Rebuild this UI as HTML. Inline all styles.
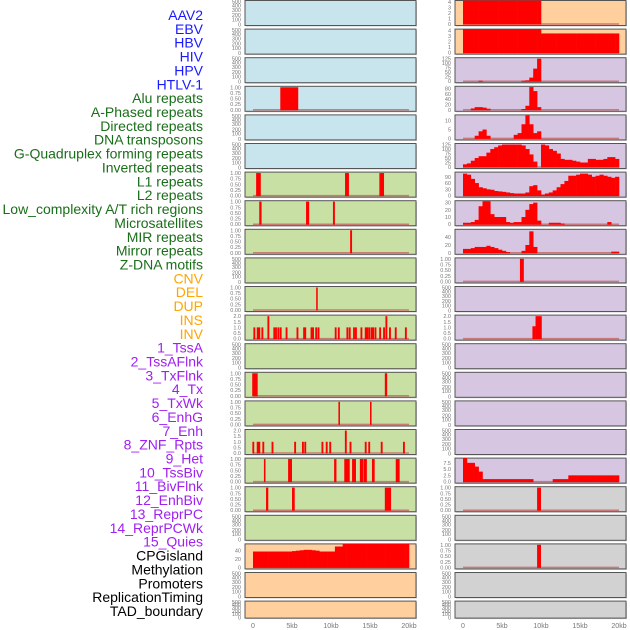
<!DOCTYPE html>
<html><head><meta charset="utf-8"><style>
html,body{margin:0;padding:0;background:#fff;width:630px;height:630px;overflow:hidden}
svg{display:block;font-family:"Liberation Sans",sans-serif}
</style></head><body>
<svg id="chart" width="630" height="630" viewBox="0 0 630 630" xmlns="http://www.w3.org/2000/svg"></svg>
<script>
// ---- data ----
const rowLabels = ["AAV2","EBV","HBV","HIV","HPV","HTLV-1","Alu repeats","A-Phased repeats","Directed repeats","DNA transposons","G-Quadruplex forming repeats","Inverted repeats","L1 repeats","L2 repeats","Low_complexity A/T rich regions","Microsatellites","MIR repeats","Mirror repeats","Z-DNA motifs","CNV","DEL","DUP","INS","INV","1_TssA","2_TssAFlnk","3_TxFlnk","4_Tx","5_TxWk","6_EnhG","7_Enh","8_ZNF_Rpts","9_Het","10_TssBiv","11_BivFlnk","12_EnhBiv","13_ReprPC","14_ReprPCWk","15_Quies","CPGisland","Methylation","Promoters","ReplicationTiming","TAD_boundary"];
const labelColors = ["#1a1aff","#1a1aff","#1a1aff","#1a1aff","#1a1aff","#1a1aff","#1a6e1a","#1a6e1a","#1a6e1a","#1a6e1a","#1a6e1a","#1a6e1a","#1a6e1a","#1a6e1a","#1a6e1a","#1a6e1a","#1a6e1a","#1a6e1a","#1a6e1a","#ffa500","#ffa500","#ffa500","#ffa500","#ffa500","#a020f0","#a020f0","#a020f0","#a020f0","#a020f0","#a020f0","#a020f0","#a020f0","#a020f0","#a020f0","#a020f0","#a020f0","#a020f0","#a020f0","#a020f0","#000","#000","#000","#000","#000"];
const bgLeft = ["b","b","b","b","b","b","g","g","g","g","g","g","g","g","g","g","g","g","g","o","o","o"];
const bgRight = ["o","o","p","p","p","p","p","p","p","p","p","p","p","p","p","p","p","r","r","r","r","r"];
const xTicks = [0,5,10,15,20];
const xTickLabels = ["0","5kb","10kb","15kb","20kb"];
// binned series (0.5kb bins, 40 bins)
const hivBins = [0,0,0,0,3,0,0,0,0,0,0,0,0,0,0,3,5,20,70,125,0,0,0,0,0,0,0,0,0,0,0,0,0,0,0,0,0,0,0,0];
const aluBins = [0,0,5,10,10,8,4,0,0,0,0,0,0,0,0,3,15,85,70,10,0,0,0,0,0,0,0,0,0,0,0,0,0,0,0,0,0,0,0,0];
const directedBins = [0,0,0,1.5,4,5,1.5,0,0,0,0,0,0,2,3,8,13,8,3,4,0,0,0,0,0,0,0,0,0,0,0,0,0,0,0,0,0,0,0,0];
const gquadBins = [15,20,35,50,60,60,80,100,110,120,125,125,125,125,125,120,100,70,30,0,125,120,100,90,75,45,40,40,35,30,25,25,45,45,40,40,45,55,55,45];
const l1Bins = [105,100,80,60,40,35,30,28,22,20,18,15,12,10,10,10,15,45,50,25,5,10,15,25,40,55,70,95,95,100,105,105,100,90,95,100,95,90,85,90];
const l2Bins = [2,2,3,6,25,32,32,14,10,10,10,3,2,3,3,10,20,28,30,5,0,0,2,2,2,1,0,0,0,0,0,0,0,0,0,0,0,3,0,0];
const lowCompBins = [10,10,12,15,15,15,18,15,12,8,5,2,0,0,0,5,20,55,15,0,0,0,0,0,0,0,0,0,0,0,0,0,0,0,0,0,0,0,3,3];
const hetBins = [10,7.5,7.5,6,4,1,1,1,1,1,1,1,1,1,1,1,1,1,0,0,0,0,0,1,1,1,1,2.5,2.5,2.5,2.5,2.5,2.5,2.5,2.5,2.5,2.5,2.5,2.5,2.5];
const cpgBins = [38,38,38,38,38,38,38,38,38,38,39,40,41,42,42,41,40,38,38,38,38,50,50,58,58,58,58,58,58,58,58,58,58,58,58,58,58,58,58,58];
const aav2Bins = [5,5,5,5,5,5,5,5,5,5,5,5,5,5,5,5,5,5,5,5,0,0,0,0,0,0,0,0,0,0,0,0,0,0,0,0,0,0,0,0];
const ebvBins = [5,5,5,5,5,5,5,5,5,5,5,5,5,5,5,5,5,5,5,5,3.5,3.5,3.5,3.5,3.5,3.5,3.5,3.5,3.5,3.5,3.5,3.5,3.5,3.5,3.5,3.5,3.5,3.5,3.5,3.5];
// interval series [startKb, endKb, value]
const alu1 = [[3.5,5.8,1]];
const rowL6 = [[0.4,1.0,1],[11.8,12.3,1],[16.2,16.8,1]];
const rowL7 = [[0.8,1.1,1],[6.8,7.2,1],[10.25,10.5,1]];
const rowL8 = [[12.45,12.7,1]];
const rowL10 = [[8.1,8.3,1]];
const rowL11Pos = [0.17,0.6,0.81,1.2,1.97,2.73,2.95,3.25,3.55,4.3,5.7,6.55,6.7,7.5,7.7,8.1,8.4,10.6,11.0,12.1,12.4,12.95,13.2,13.9,14.45,14.65,14.9,15.2,15.4,15.7,16.3,16.8,17.1,17.56,18.3,19.6];
const rowL11Val = [1,1,1,1,2,1,1,1,1,1,1,1,1,1,1,1,1,1,1,1,1,1,1,1,1,1,1,1,1,1,1,1,2,1,1,1];
const rowL13 = [[-0.1,0.6,1],[16.9,17.2,1]];
const rowL14 = [[10.95,11.15,1],[15.0,15.2,1]];
const rowL15Pos = [0.04,0.6,0.81,1.32,2.5,5.4,6.4,6.7,8.9,9.45,9.9,11.9,12.5,14.45,14.9,16.5,19.35];
const rowL15Val = [1,1,1,1,1,1,1,1,1,1,1,2,1,1,1,1,1];
const rowL16 = [[1.4,1.6,1],[4.5,5.0,1],[10.4,10.7,1],[11.7,12.4,1],[12.7,13.2,1],[13.7,14.1,1],[14.15,14.6,1],[15.25,15.6,1],[18.3,18.8,1]];
const rowL17 = [[1.67,1.96,1],[5.0,5.35,1],[16.9,17.7,1]];
const rowR9 = [[7.3,7.8,1]];
const rowR11 = [[8.9,9.3,1.1],[9.3,10.1,2]];
const rowR17 = [[9.5,10.0,1]];
const rowR19 = [[9.5,10.0,1]];

const T01 = ["0.00","0.25","0.50","0.75","1.00"], V01=[0,0.25,0.5,0.75,1];
const T02 = ["0.0","0.5","1.0","1.5","2.0"], V02=[0,0.5,1,1.5,2];
function spikes(pos,val){return pos.map((p,i)=>[p-0.12,p+0.12,val[i]]);}
const left = [
 null,null,null,["iv",alu1,1.02,V01,T01],null,null,
 ["iv",rowL6,1.02,V01,T01],["iv",rowL7,1.02,V01,T01],["iv",rowL8,1.02,V01,T01],null,["iv",rowL10,1.02,V01,T01],
 ["iv",spikes(rowL11Pos,rowL11Val),2.05,V02,T02],null,["iv",rowL13,1.02,V01,T01],["iv",rowL14,1.02,V01,T01],
 ["iv",spikes(rowL15Pos,rowL15Val),2.05,V02,T02],["iv",rowL16,1.02,V01,T01],["iv",rowL17,1.02,V01,T01],null,
 ["bin",cpgBins,55,[0,20,40],["0","20","40"]],null,null];
const right = [
 ["bin",aav2Bins,4.2,[0,1,2,3,4],["0","1","2","3","4"]],["bin",ebvBins,4.2,[0,1,2,3,4],["0","1","2","3","4"]],
 ["bin",hivBins,128,[0,25,50,75,100,125],["0","25","50","75","100","125"]],["bin",aluBins,86,[0,20,40,60,80],["0","20","40","60","80"]],
 ["bin",directedBins,13,[0,5,10],["0","5","10"]],["bin",gquadBins,128,[0,25,50,75,100,125],["0","25","50","75","100","125"]],
 ["bin",l1Bins,110,[0,30,60,90],["0","30","60","90"]],["bin",l2Bins,32,[0,10,20,30],["0","10","20","30"]],
 ["bin",lowCompBins,59,[0,20,40],["0","20","40"]],["iv",rowR9,1.02,V01,T01],null,["iv",rowR11,2.05,V02,T02],
 null,null,null,null,["bin",hetBins,9.2,[0,2.5,5,7.5],["0.0","2.5","5.0","7.5"]],["iv",rowR17,1.02,V01,T01],null,["iv",rowR19,1.02,V01,T01],null,null];

const colors = {b:"#c8e4ec",g:"#c8e0a4",o:"#ffd09e",p:"#d6c6e2",r:"#d2d2d2"};
const NS="http://www.w3.org/2000/svg";
const svg=document.getElementById("chart");
function mk(tag,attrs,parent){const e=document.createElementNS(NS,tag);for(const k in attrs)e.setAttribute(k,attrs[k]);(parent||svg).appendChild(e);return e;}

rowLabels.forEach((t,i)=>{
  const e=mk("text",{x:203,y:15+13.86*i+5,"text-anchor":"end","font-size":"14",fill:labelColors[i]});
  
  
  e.textContent=t;
});

const emptyFr=[0.96,0.75,0.58,0.37,0.2,0.04], emptyLb=["0","100","200","300","400","500"];
function drawPanel(side,i,spec,bg){
  const x0= side===0?245:455, w=171;
  const top=0.5+28.6*i, h= i===21?17:25;
  const g=mk("g",{});
  
  
  mk("rect",{x:x0+1,y:top+1,width:w,height:h,fill:"#999",opacity:0.5},g);
  mk("rect",{x:x0,y:top,width:w,height:h,fill:colors[bg],stroke:"#555","stroke-width":1},g);
  const base=top+h-1.5, sx=kb=>x0+8+kb*7.8;
  const tx=x0-4;
  if(!spec){
    emptyFr.forEach((f,k)=>{const t=mk("text",{x:tx,y:top+h*f+2,"text-anchor":"end","font-size":"5.5",fill:"#777"},g);t.textContent=emptyLb[k];});
    return;
  }
  const [type,data,ymax,tv,tl]=spec;
  const sy=v=>base-(Math.min(v,ymax*1.2)/ymax)*(h-2);
  const clipId="c"+side+"_"+i;
  const cp=mk("clipPath",{id:clipId},g);mk("rect",{x:x0,y:top,width:w,height:h},cp);
  const dg=mk("g",{"clip-path":"url(#"+clipId+")"},g);
  mk("line",{x1:sx(0),x2:sx(20),y1:base,y2:base,stroke:"#c86464","stroke-width":1.5,opacity:0.8},dg);
  if(type==="bin"){
    data.forEach((v,k)=>{ if(v<=0) return;
      const b=mk("rect",{x:sx(k*0.5),y:sy(v),width:sx(k*0.5+0.5)-sx(k*0.5)+0.3,height:base-sy(v)+0.5,fill:"#ff0000"},dg);
      
      
    });
  } else {
    data.forEach(d=>{
      const b=mk("rect",{x:sx(d[0]),y:sy(d[2]),width:Math.max(1.2,sx(d[1])-sx(d[0])),height:base-sy(d[2])+0.5,fill:"#ff0000"},dg);
      
      
    });
  }
  tv.forEach((v,k)=>{const t=mk("text",{x:tx,y:sy(v)+2,"text-anchor":"end","font-size":"5.5",fill:"#777"},g);t.textContent=tl[k];});
}
for(let i=0;i<22;i++){drawPanel(0,i,left[i],bgLeft[i]);drawPanel(1,i,right[i],bgRight[i]);}

[245,455].forEach(x0=>{
  xTicks.forEach((v,k)=>{
    const t=mk("text",{x:x0+8+v*7.8,y:628,"text-anchor":"middle","font-size":"7",fill:"#777"});
    
    
    t.textContent=xTickLabels[k];
  });
});
</script>
</body></html>
